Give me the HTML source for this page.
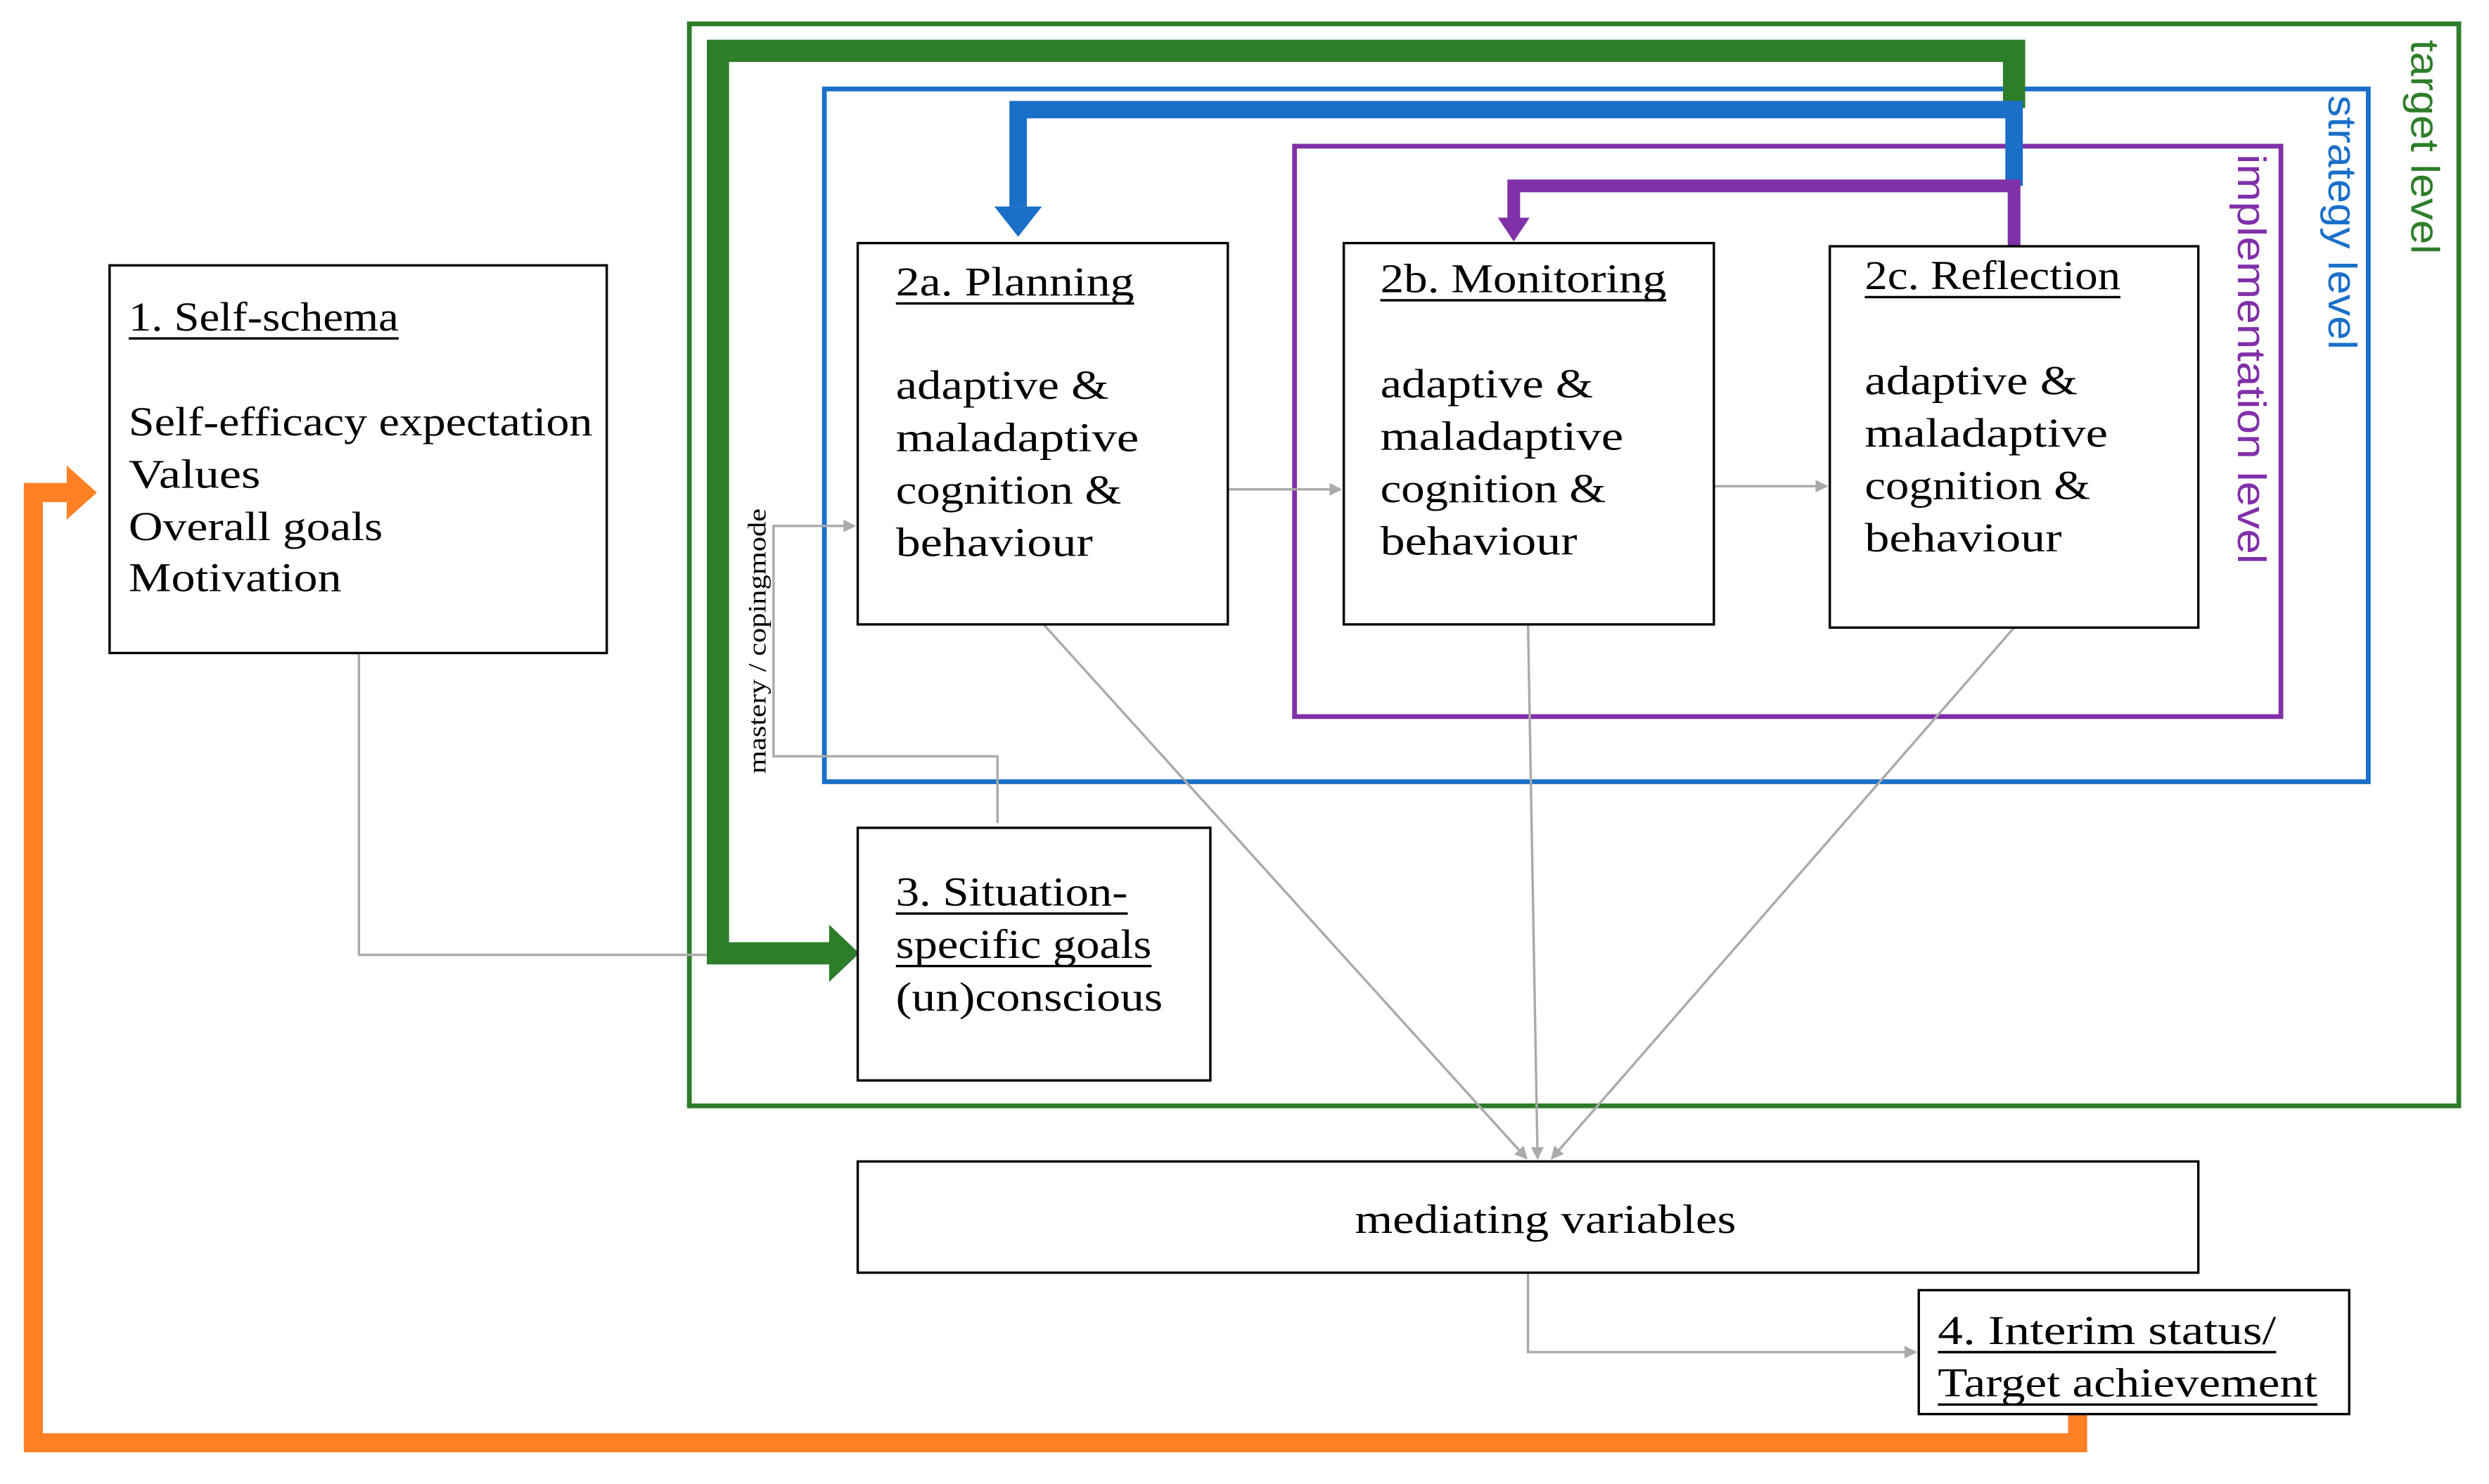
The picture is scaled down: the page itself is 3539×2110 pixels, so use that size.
<!DOCTYPE html>
<html><head><meta charset="utf-8"><style>
html,body{margin:0;padding:0;background:#fff;}
svg{display:block;}
text{font-family:"Liberation Serif",serif;fill:#000;}
</style></head><body>
<svg width="3539" height="2110" viewBox="0 0 1567 934" preserveAspectRatio="none" xmlns="http://www.w3.org/2000/svg">
<defs>
<marker id="ga" markerWidth="8" markerHeight="8" refX="7" refY="4" orient="auto" markerUnits="userSpaceOnUse"><path d="M0,0 L8,4 L0,8 z" fill="#aaa"/></marker>
</defs>
<rect width="1567" height="934" fill="#fff"/>
<rect x="434" y="15" width="1114" height="681" fill="none" stroke="#2e7d2a" stroke-width="3"/>
<rect x="519" y="56" width="972" height="436" fill="none" stroke="#1a6fc9" stroke-width="3"/>
<rect x="815" y="92" width="621" height="359" fill="none" stroke="#8030a8" stroke-width="3"/>
<text transform="translate(1518,25) rotate(90)" font-size="25" textLength="135" lengthAdjust="spacingAndGlyphs" style="fill:#2e7d2a;font-family:'Liberation Sans',sans-serif">target level</text>
<text transform="translate(1466,60) rotate(90)" font-size="25" textLength="160" lengthAdjust="spacingAndGlyphs" style="fill:#1a6fc9;font-family:'Liberation Sans',sans-serif">strategy level</text>
<text transform="translate(1409,97) rotate(90)" font-size="25" textLength="258" lengthAdjust="spacingAndGlyphs" style="fill:#8030a8;font-family:'Liberation Sans',sans-serif">implementation level</text>
<g stroke="#aaa" stroke-width="1.5" fill="none">
<polyline points="226,411 226,601 446,601"/>
<polyline points="628,518 628,476 487,476 487,331 538,331" marker-end="url(#ga)"/>
<line x1="773" y1="308" x2="844" y2="308" marker-end="url(#ga)"/>
<line x1="1079" y1="306" x2="1150" y2="306" marker-end="url(#ga)"/>
<line x1="657" y1="393" x2="961" y2="729" marker-end="url(#ga)"/>
<line x1="962" y1="393" x2="968" y2="729" marker-end="url(#ga)"/>
<line x1="1268" y1="395" x2="977" y2="729" marker-end="url(#ga)"/>
<polyline points="962,801 962,851 1206,851" marker-end="url(#ga)"/>
</g>
<text transform="translate(482,487) rotate(-90)" font-size="16" textLength="167" lengthAdjust="spacingAndGlyphs">mastery / copingmode</text>
<polyline points="1268,68 1268,32 452,32 452,600 524,600" fill="none" stroke="#2e7d2a" stroke-width="14"/>
<path d="M522,582 L541,600 L522,618 z" fill="#2e7d2a"/>
<polyline points="1268,117 1268,69 641,69 641,130" fill="none" stroke="#1a6fc9" stroke-width="11"/>
<path d="M626,130 L656,130 L641,149 z" fill="#1a6fc9"/>
<polyline points="1268,155 1268,117 953,117 953,137" fill="none" stroke="#8030a8" stroke-width="8"/>
<path d="M943,137 L963,137 L953,152 z" fill="#8030a8"/>
<polyline points="1308,890 1308,908 21,908 21,310 48,310" fill="none" stroke="#ff8025" stroke-width="12"/>
<path d="M42,293 L61,310 L42,327 z" fill="#ff8025"/>
<g fill="#fff" stroke="#000" stroke-width="1.5">
<rect x="69" y="167" width="313" height="244"/>
<rect x="540" y="153" width="233" height="240"/>
<rect x="846" y="153" width="233" height="240"/>
<rect x="1152" y="155" width="232" height="240"/>
<rect x="540" y="521" width="222" height="159"/>
<rect x="540" y="731" width="844" height="70"/>
<rect x="1208" y="812" width="271" height="78"/>
</g>
<g font-size="26">
<text x="81" y="208" textLength="170" lengthAdjust="spacingAndGlyphs">1. Self-schema</text>
<text x="81" y="274" textLength="292" lengthAdjust="spacingAndGlyphs">Self-efficacy expectation</text>
<text x="81" y="307" textLength="83" lengthAdjust="spacingAndGlyphs">Values</text>
<text x="81" y="340" textLength="160" lengthAdjust="spacingAndGlyphs">Overall goals</text>
<text x="81" y="372" textLength="134" lengthAdjust="spacingAndGlyphs">Motivation</text>
<text x="564" y="186" textLength="150" lengthAdjust="spacingAndGlyphs">2a. Planning</text>
<text x="564" y="251" textLength="134" lengthAdjust="spacingAndGlyphs">adaptive &amp;</text>
<text x="564" y="284" textLength="153" lengthAdjust="spacingAndGlyphs">maladaptive</text>
<text x="564" y="317" textLength="142" lengthAdjust="spacingAndGlyphs">cognition &amp;</text>
<text x="564" y="350" textLength="124" lengthAdjust="spacingAndGlyphs">behaviour</text>
<text x="869" y="184" textLength="180" lengthAdjust="spacingAndGlyphs">2b. Monitoring</text>
<text x="869" y="250" textLength="134" lengthAdjust="spacingAndGlyphs">adaptive &amp;</text>
<text x="869" y="283" textLength="153" lengthAdjust="spacingAndGlyphs">maladaptive</text>
<text x="869" y="316" textLength="142" lengthAdjust="spacingAndGlyphs">cognition &amp;</text>
<text x="869" y="349" textLength="124" lengthAdjust="spacingAndGlyphs">behaviour</text>
<text x="1174" y="182" textLength="161" lengthAdjust="spacingAndGlyphs">2c. Reflection</text>
<text x="1174" y="248" textLength="134" lengthAdjust="spacingAndGlyphs">adaptive &amp;</text>
<text x="1174" y="281" textLength="153" lengthAdjust="spacingAndGlyphs">maladaptive</text>
<text x="1174" y="314" textLength="142" lengthAdjust="spacingAndGlyphs">cognition &amp;</text>
<text x="1174" y="347" textLength="124" lengthAdjust="spacingAndGlyphs">behaviour</text>
<text x="564" y="570" textLength="146" lengthAdjust="spacingAndGlyphs">3. Situation-</text>
<text x="564" y="603" textLength="161" lengthAdjust="spacingAndGlyphs">specific goals</text>
<text x="564" y="636" textLength="168" lengthAdjust="spacingAndGlyphs">(un)conscious</text>
<text x="853" y="776" textLength="240" lengthAdjust="spacingAndGlyphs">mediating variables</text>
<text x="1220" y="846" textLength="213" lengthAdjust="spacingAndGlyphs">4. Interim status/</text>
<text x="1220" y="879" textLength="239" lengthAdjust="spacingAndGlyphs">Target achievement</text>
</g>
<g stroke="#000" stroke-width="1.5">
<line x1="81" y1="213" x2="251" y2="213"/>
<line x1="564" y1="191" x2="714" y2="191"/>
<line x1="869" y1="189" x2="1049" y2="189"/>
<line x1="1174" y1="187" x2="1335" y2="187"/>
<line x1="564" y1="575" x2="710" y2="575"/>
<line x1="564" y1="608" x2="725" y2="608"/>
<line x1="1220" y1="851" x2="1433" y2="851"/>
<line x1="1220" y1="884" x2="1459" y2="884"/>
</g>
</svg>
</body></html>
